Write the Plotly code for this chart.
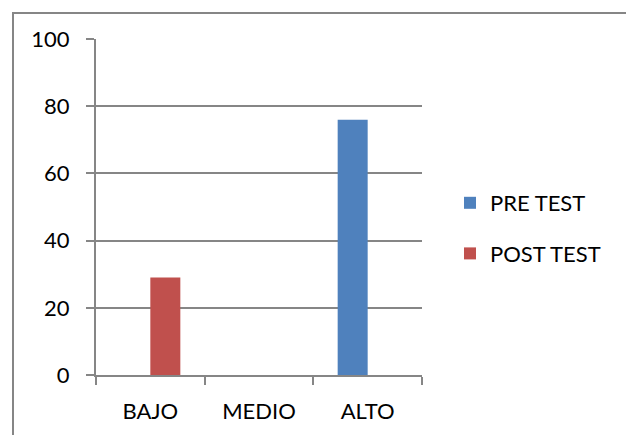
import plotly.graph_objects as go

categories = ["BAJO", "MEDIO", "ALTO"]
pre_test = [0, 0, 76]
post_test = [29, 0, 0]
series_names = ["PRE TEST", "POST TEST"]
y_ticks = [0, 20, 40, 60, 80, 100]

W, H = 626, 435
L, R, T, B = 96, 422, 39, 375
pw, ph = R - L, B - T

GRAY = "#868686"
FONT = "Lato"
FS = 22

fig = go.Figure()
fig.add_trace(go.Bar(x=categories, y=pre_test, name=series_names[0],
                     marker=dict(color="#4F81BD", line=dict(width=0)),
                     legendgroup="a"))
fig.add_trace(go.Bar(x=categories, y=post_test, name=series_names[1],
                     marker=dict(color="#C0504D", line=dict(width=0)),
                     legendgroup="b"))

def px_x(x):
    return (x - L) / pw

def px_y(y):
    return (B - y) / ph

fig.add_shape(type="rect", xref="paper", yref="paper",
              x0=px_x(13), x1=px_x(660), y0=px_y(470), y1=px_y(13),
              line=dict(color=GRAY, width=2), fillcolor="rgba(0,0,0,0)",
              layer="below")

fig.update_layout(
    width=W, height=H,
    margin=dict(l=L, r=W - R, t=T, b=H - B, pad=0),
    paper_bgcolor="white", plot_bgcolor="white",
    barmode="group", bargap=0.448, bargroupgap=0,
    font=dict(family=FONT, size=FS, color="black"),
    showlegend=True,
    legend=dict(x=px_x(450), xanchor="left", y=px_y(182), yanchor="top",
                tracegroupgap=19, traceorder="grouped",
                font=dict(family=FONT, size=FS, color="black"),
                bgcolor="rgba(0,0,0,0)"),
    xaxis=dict(type="category", showline=True, linecolor=GRAY, linewidth=2,
               ticks="outside", tickson="boundaries", ticklen=8, tickwidth=2,
               tickcolor=GRAY, showgrid=False, ticklabelstandoff=16,
               tickfont=dict(family=FONT, size=FS, color="black")),
    yaxis=dict(range=[0, 100], tickvals=y_ticks, showline=True, linecolor=GRAY,
               linewidth=2, ticks="outside", ticklen=8, tickwidth=2,
               tickcolor=GRAY, showgrid=True, gridcolor=GRAY, gridwidth=2,
               zeroline=False, ticklabelstandoff=12,
               tickfont=dict(family=FONT, size=FS, color="black")),
)

fig.write_html("out.html")
